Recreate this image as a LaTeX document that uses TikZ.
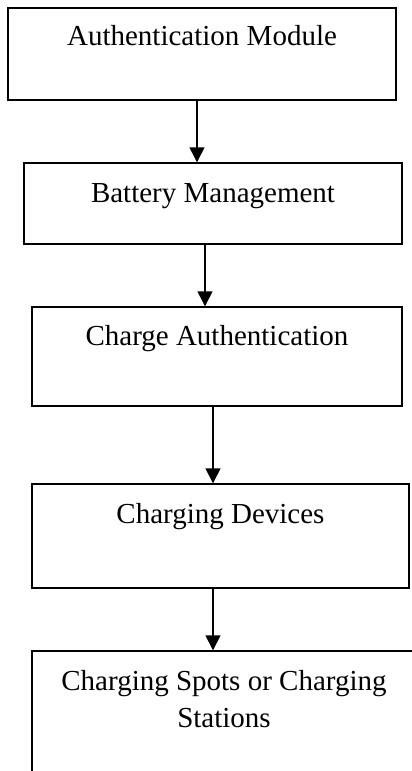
\documentclass[tikz,border=0pt]{standalone}
\usepackage{fontspec}
\setmainfont{Liberation Serif}
\usetikzlibrary{arrows.meta,calc}

\begin{document}
\begin{tikzpicture}[x=1pt, y=-1pt, line width=1.4pt,
		>={Triangle[width=15pt, length=15pt]}]

		% 図の範囲(はみ出した部分は切る)
		\clip (0, 0) rectangle (412, 771);
		\fontsize{29}{37}\selectfont	% 文字の大きさ
		\tikzset {
			styleBlock/.style = {
				draw, rectangle, inner sep=0pt, anchor=base
			}		% 枠だけの四角、文字のベースラインで置く
		};
		% ループで箱を書く (名前/x/ベースライン/幅/上/下/文字)
		\foreach
			\blockName/\blockX/\blockY/\blockW/\blockH/\blockD/\blockText in {
				b1/202/45/388/37/55/Authentication Module,
				b2/213/202/378/39/42/Battery Management,
				b3/217/345/370/38/61/Charge Authentication,
				b4/220.5/523/377/39/65/Charging Devices } {
			\node [
				styleBlock, minimum width=\blockW pt,
				text height=\blockH pt, text depth=\blockD pt
			] (\blockName) at (\blockX, \blockY) {\blockText};	% 箱の位置に名前をつける
		}
		% 最後の箱は二行なので別に書く(右と下は切れる)
		\node [
			styleBlock, minimum width=384pt,
			text height=39pt, text depth=110pt
		] (b5) at (224, 690) {%
			\begin{tabular}[t]{@{}c@{}}
				Charging Spots or Charging\\Stations
			\end{tabular}};

		% ループで矢印を書く (少し左にずらす)
		\foreach \startName/\endName/\arrowShift in
			{b1/b2/-5, b2/b3/-8, b3/b4/-4, b4/b5/-7.5} {
			\draw [->] ($(\startName.south) + (\arrowShift, 0)$)
				-- ($(\startName.south |- \endName.north) + (\arrowShift, 0)$);
		}

	\end{tikzpicture}
\end{document}
